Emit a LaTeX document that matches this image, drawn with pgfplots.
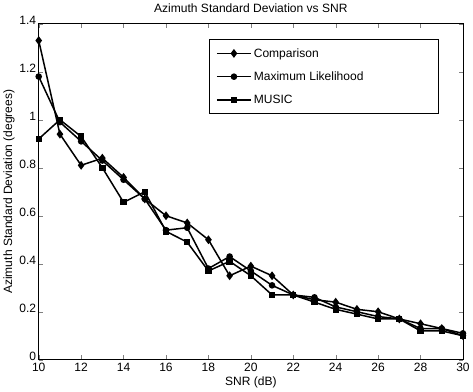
\documentclass[border=0pt]{standalone}
\usepackage{fontspec}
\setmainfont{Liberation Sans}
\usepackage{pgfplots}
\pgfplotsset{compat=1.18}
\begin{document}
\begin{tikzpicture}
\begin{axis}[
  width=423pt, height=335pt, scale only axis,
  xmin=10, xmax=30, ymin=0, ymax=1.4,
  xtick={10,12,...,30}, ytick={0,0.2,...,1.4},
  tick align=inside, tick pos=both,
  /pgf/number format/assume math mode=true,
  tick label style={font=\fontsize{12}{12}\selectfont},
  yticklabel style={xshift=1pt, yshift=3pt},
  label style={font=\fontsize{12}{13}\selectfont},
  title style={font=\fontsize{12}{13}\selectfont, yshift=2pt},
  title={Azimuth Standard Deviation vs SNR},
  xlabel={SNR (dB)}, ylabel={Azimuth Standard Deviation (degrees)},
  xlabel style={yshift=2pt}, ylabel style={yshift=-2pt},
  axis line style={line width=0.8pt},
  every axis plot/.append style={black, line width=1.5pt, mark options={solid, fill=black}},
  legend image code/.code={\draw[mark repeat=2,mark phase=2] plot coordinates {(0cm,0cm) (0.6cm,0cm) (1.2cm,0cm)};},
  legend style={at={(0.943,0.955)}, anchor=north east, draw=black, line width=0.8pt,
    font=\fontsize{12}{13}\selectfont, row sep=9pt, inner xsep=7pt, inner ysep=7pt},
  legend cell align=left,
]
\addplot[mark=diamond*, mark size=3.2pt] coordinates {
(10,1.33)(11,0.94)(12,0.81)(13,0.84)(14,0.76)(15,0.67)(16,0.60)(17,0.57)(18,0.50)(19,0.35)(20,0.39)(21,0.35)(22,0.27)(23,0.25)(24,0.24)(25,0.21)(26,0.20)(27,0.17)(28,0.15)(29,0.13)(30,0.10)};
\addlegendentry{Comparison}
\addplot[mark=*, mark size=2.5pt] coordinates {
(10,1.18)(11,0.99)(12,0.91)(13,0.83)(14,0.75)(15,0.67)(16,0.54)(17,0.55)(18,0.38)(19,0.43)(20,0.37)(21,0.31)(22,0.27)(23,0.26)(24,0.22)(25,0.20)(26,0.18)(27,0.17)(28,0.13)(29,0.13)(30,0.11)};
\addlegendentry{\makebox[175pt][l]{Maximum Likelihood}}
\addplot[mark=square*, mark size=2.4pt] coordinates {
(10,0.92)(11,1.00)(12,0.93)(13,0.80)(14,0.656)(15,0.70)(16,0.535)(17,0.49)(18,0.37)(19,0.41)(20,0.35)(21,0.27)(22,0.27)(23,0.24)(24,0.21)(25,0.19)(26,0.17)(27,0.17)(28,0.12)(29,0.12)(30,0.10)};
\addlegendentry{MUSIC}
\end{axis}
\end{tikzpicture}
\end{document}
